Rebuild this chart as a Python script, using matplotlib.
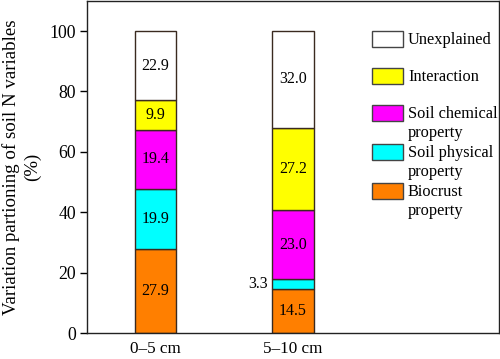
import matplotlib.pyplot as plt
from matplotlib.patches import Rectangle

plt.rcParams['font.family'] = ['Liberation Serif', 'DejaVu Serif']

depths = ['0–5 cm', '5–10 cm']
biocrust = [27.9, 14.5]
physical = [19.9, 3.3]
chemical = [19.4, 23.0]
interaction = [9.9, 27.2]
unexplained = [22.9, 32.0]

series = [biocrust, physical, chemical, interaction, unexplained]
names = ['Biocrust\nproperty', 'Soil physical\nproperty', 'Soil chemical\nproperty',
         'Interaction', 'Unexplained']
colors = ['#ff7f00', '#00ffff', '#ff00ff', '#ffff00', '#ffffff']

fig = plt.figure(figsize=(5, 3.59), dpi=100)
ax = fig.add_axes([0.174, 0.0724, 0.824, 0.925])

x = list(range(len(depths)))
bottom = [0.0] * len(depths)
for vals, col in zip(series, colors):
    ax.bar(x, vals, width=0.3, bottom=bottom, color=col, edgecolor='#3a2a20', linewidth=1)
    for i, v in enumerate(vals):
        if v < 5:
            # too thin to hold its label, put it on the left
            ax.text(i - 0.185, bottom[i] + v / 2, f'{v:.1f}', ha='right', va='center', fontsize=11.5)
        else:
            ax.text(i, bottom[i] + v / 2, f'{v:.1f}', ha='center', va='center', fontsize=11.5)
    bottom = [b + v for b, v in zip(bottom, vals)]

ax.set_xlim(-0.5, 2.5)
ax.set_ylim(0, 110)
ax.set_yticks([0, 20, 40, 60, 80, 100])
ax.set_xticks(x)
ax.set_xticklabels(depths, fontsize=12.3)
ax.tick_params(axis='y', labelsize=12.8, direction='out', length=5, width=1, pad=3)
ax.tick_params(axis='x', length=0, pad=6)
ax.set_ylabel('Variation partioning of soil N variables\n(%)', fontsize=13.6, linespacing=1.3,
              labelpad=6)
for s in ax.spines.values():
    s.set_linewidth(1)
    s.set_color('#222222')

# legend drawn by hand, top to bottom
tops = [0.9096, 0.798, 0.687, 0.569, 0.452]
for top, name, col in zip(tops, names[::-1], colors[::-1]):
    ax.add_patch(Rectangle((0.692, top - 0.048), 0.0752, 0.048, transform=ax.transAxes,
                           facecolor=col, edgecolor='#444444', linewidth=1, clip_on=False))
    ax.text(0.779, top - 0.003, name, transform=ax.transAxes, ha='left', va='top',
            fontsize=11.8, linespacing=1.25)

fig.savefig('out.png', dpi=100)
